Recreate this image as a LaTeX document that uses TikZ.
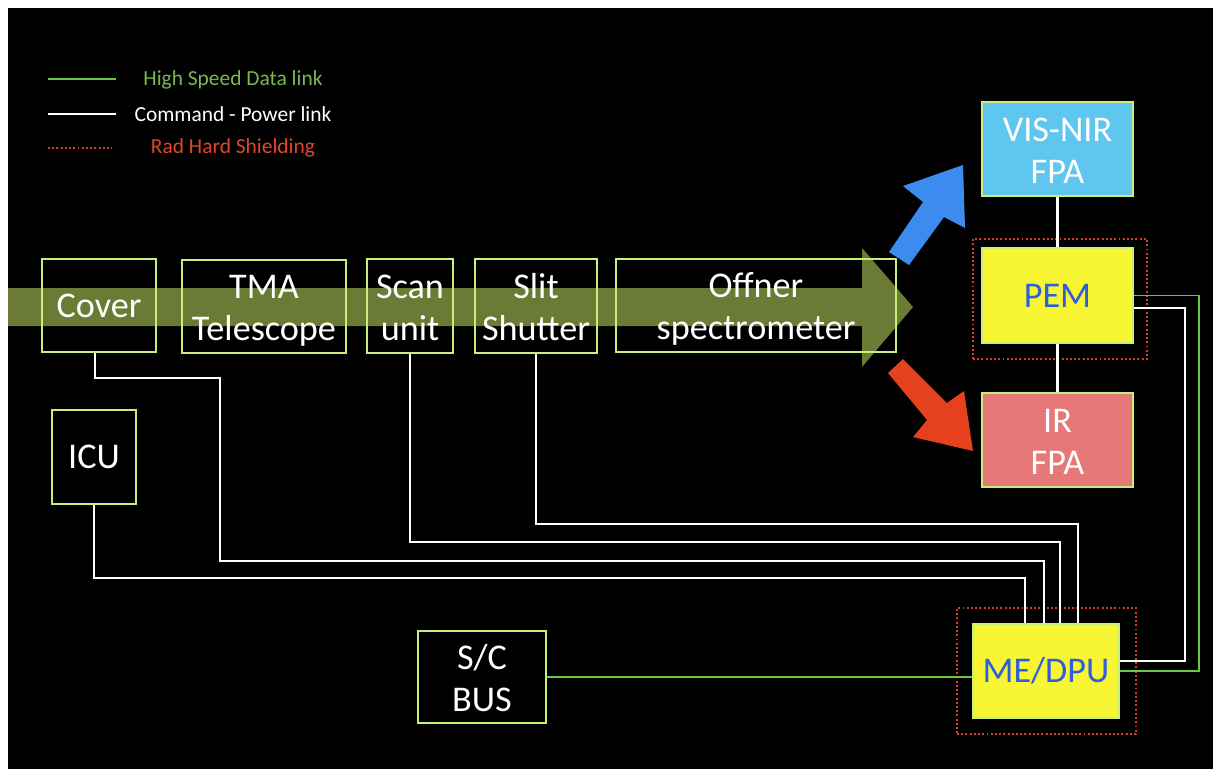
\documentclass[tikz,border=0pt]{standalone}
\usepackage{fontspec}
\setmainfont{Carlito}
\usepackage{tikz}
\usetikzlibrary{calc}
\definecolor{bx_green}{RGB}{200, 240, 120}
\definecolor{hs_green}{RGB}{105, 200, 60}
\definecolor{lg_green}{RGB}{120, 185, 80}
\definecolor{sh_red}{RGB}{215, 60, 40}
\definecolor{lg_red}{RGB}{225, 70, 40}
\definecolor{beam_green}{RGB}{107, 122, 53}
\definecolor{vis_blue}{RGB}{95, 198, 240}
\definecolor{ir_red}{RGB}{230, 120, 120}
\definecolor{pem_yellow}{RGB}{248, 245, 50}
\definecolor{pem_text}{RGB}{45, 95, 220}
\definecolor{arr_blue}{RGB}{60, 140, 240}
\definecolor{arr_red}{RGB}{230, 65, 30}
\newcommand{\twol}[2]{\begin{tabular}{@{}c@{}}#1\\#2\end{tabular}}
\tikzstyle{bx}=[rectangle,draw=bx_green,line width=1.4pt,text=white,
  inner sep=0pt,font=\fontsize{20.6}{24}\selectfont]
\tikzstyle{bx2}=[bx,text height=32pt,text depth=16pt]
\tikzstyle{pm}=[bx,fill=pem_yellow,text=pem_text]
\tikzstyle{sh}=[rectangle,draw=sh_red,line width=1.1pt,
  dash pattern=on 1.1pt off 1.3pt]
\tikzstyle{hs}=[draw=hs_green,line width=1.1pt]
\tikzstyle{cp}=[draw=white,line width=1.25pt]
\tikzstyle{lg}=[font=\fontsize{12.2}{14}\selectfont]
\tikzstyle{none}=[]

\begin{document}
\begin{tikzpicture}[x=0.02cm,y=-0.02cm]
            \useasboundingbox (0, 0) rectangle (1213, 769);
            \fill [black] (8, 8) rectangle (1213, 769);
            \fill [beam_green] (8, 288) -- (862, 288) -- (862, 248) -- (913, 307)
              -- (862, 367) -- (862, 326) -- (8, 326) -- cycle;
            \fill [arr_blue] (889, 252) -- (923, 202) -- (903, 186) -- (963, 165)
              -- (965, 228) -- (944, 217) -- (909, 265) -- cycle;
            \fill [arr_red] (903, 359) -- (947, 403) -- (964, 391) -- (973, 451)
              -- (913, 437) -- (927, 420) -- (888, 373) -- cycle;
            \node [style=bx, minimum width=2.28cm, minimum height=1.86cm] (0) at (99, 305.5) {Cover};
            \node [style=bx2, minimum width=3.28cm, minimum height=1.86cm] (1) at (264, 306.5) {\twol{TMA}{Telescope}};
            \node [style=bx2, minimum width=1.72cm, minimum height=1.88cm] (2) at (410, 306) {\twol{Scan}{unit}};
            \node [style=bx2, minimum width=2.44cm, minimum height=1.88cm] (3) at (536, 306) {\twol{Slit}{Shutter}};
            \node [style=bx2, minimum width=5.6cm, minimum height=1.86cm] (4) at (756, 305.5) {\twol{Offner}{spectrometer}};
            \node [style=bx, minimum width=1.68cm, minimum height=1.88cm] (5) at (94, 457) {ICU};
            \node [style=bx2, minimum width=2.56cm, minimum height=1.84cm] (6) at (482, 677) {\twol{S/C}{BUS}};
            \node [style=bx2, fill=vis_blue, minimum width=3.02cm, minimum height=1.88cm] (7) at (1057.5, 149) {\twol{VIS-NIR}{FPA}};
            \node [style=pm, minimum width=3.02cm, minimum height=1.9cm] (8) at (1057.5, 295.5) {PEM};
            \node [style=bx2, fill=ir_red, minimum width=3.02cm, minimum height=1.88cm] (9) at (1057.5, 440) {\twol{IR}{FPA}};
            \node [style=pm, minimum width=2.92cm, minimum height=1.88cm] (10) at (1046, 671) {ME/DPU};
            \node [style=sh, minimum width=3.48cm, minimum height=2.4cm] (11) at (1060, 299) {};
            \node [style=sh, minimum width=3.58cm, minimum height=2.52cm] (12) at (1046.5, 671) {};
            \coordinate (13) at (1199, 296);
            \coordinate (14) at (1185, 308);
            \coordinate (15) at (1185, 661);
            \coordinate (16) at (95, 378);
            \coordinate (17) at (220, 561);
            \coordinate (18) at (1044, 561);
            \coordinate (19) at (1060, 542);
            \coordinate (20) at (1078, 524);
            \coordinate (21) at (1025, 578);
            \draw [style=cp] (7) to (8);
            \draw [style=cp] (8) to (9);
            \draw [style=hs] (8.east) -- (8.east -| 13) -- (10.east -| 13) -- (10.east);
            \draw [style=cp] (8.east |- 14) -- (14) -- (15) -- (10.east |- 15);
            \draw [style=hs] (6.east) to (6.east -| 10.west);
            \draw [style=cp] (0.south -| 16) -- (16) -| (17) -- (18) -- (18 |- 10.north);
            \draw [style=cp] (2.south) |- (19) -- (19 |- 10.north);
            \draw [style=cp] (3.south) |- (20) -- (20 |- 10.north);
            \draw [style=cp] (5.south) |- (21) -- (21 |- 10.north);
            \node [style=none] (22) at (48, 79) {};
            \node [style=none] (23) at (116, 79) {};
            \node [style=none] (24) at (48, 114) {};
            \node [style=none] (25) at (116, 114) {};
            \node [style=none] (26) at (48, 148) {};
            \node [style=none] (27) at (112, 148) {};
            \node [style=lg, text=lg_green] (28) at (233, 80) {High Speed Data link};
            \node [style=lg, text=white] (29) at (233, 114) {Command - Power link};
            \node [style=lg, text=lg_red] (30) at (233, 148) {Rad Hard Shielding};
            \draw [style=hs] (22.center) to (23.center);
            \draw [style=cp] (24.center) to (25.center);
            \draw [style=sh] (26.center) to (27.center);
    \end{tikzpicture}
\end{document}
